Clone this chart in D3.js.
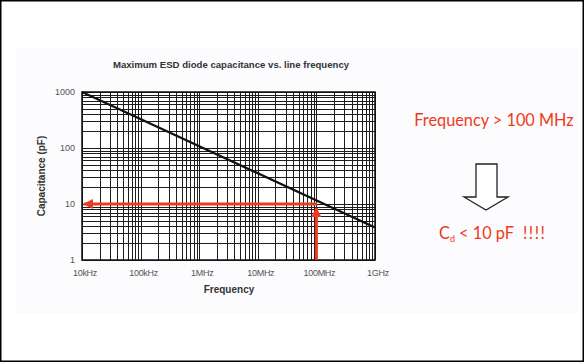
<!DOCTYPE html>
<html>
<head>
<meta charset="utf-8">
<script src="https://cdn.jsdelivr.net/npm/d3@7"></script>
<style>
  html, body { margin: 0; padding: 0; background: #fff; }
  svg { display: block; }
</style>
</head>
<body>
<div id="chart"></div>
<script>
// chart data
const freqTicks = [1e4, 1e5, 1e6, 1e7, 1e8, 1e9];
const freqLabels = ['10kHz', '100kHz', '1MHz', '10MHz', '100MHz', '1GHz'];
const capTicks = [1, 10, 100, 1000];
const capLabels = ['1', '10', '100', '1000'];
const curveFreq = [1e4, 1e9];
const curveCap = [1000, 3.8];
const markFreq = 1e8;
const markCap = 10;

const width = 584;
const height = 362;
const plot = { l: 82, r: 375, t: 92, b: 260 };

const svg = d3
  .select('#chart')
  .append('svg')
  .attr('width', width)
  .attr('height', height);

// page frame + slide panel
svg.append('rect').attr('x', 0.75).attr('y', 0.75)
  .attr('width', width - 1.5).attr('height', height - 1.5)
  .attr('fill', '#fff').attr('stroke', '#000').attr('stroke-width', 1.5);
svg.append('rect').attr('x', 16).attr('y', 47)
  .attr('width', 562).attr('height', 267)
  .attr('fill', '#fcfbfd');

const x = d3.scaleLog().domain([1e4, 1e9]).range([plot.l, plot.r]);
const y = d3.scaleLog().domain([1, 1000]).range([plot.b, plot.t]);

// plot background
svg.append('rect').attr('x', plot.l).attr('y', plot.t)
  .attr('width', plot.r - plot.l).attr('height', plot.b - plot.t)
  .attr('fill', '#fff');

// minor + major grid
const xGrid = [];
d3.range(4, 9).forEach((e) => {
  d3.range(1, 10).forEach((m) => xGrid.push(m * 10 ** e));
});
xGrid.push(1e9);
const yGrid = [];
d3.range(0, 3).forEach((e) => {
  d3.range(1, 10).forEach((m) => yGrid.push(m * 10 ** e));
});
yGrid.push(1000);

const grid = svg.append('g').attr('stroke', '#111').attr('stroke-width', 1).attr('opacity', 0.95);
grid.selectAll('.vx')
  .data(xGrid)
  .join('line')
  .attr('x1', (d) => Math.round(x(d)) + 0.5)
  .attr('x2', (d) => Math.round(x(d)) + 0.5)
  .attr('y1', plot.t)
  .attr('y2', plot.b);
grid.selectAll('.hy')
  .data(yGrid)
  .join('line')
  .attr('y1', (d) => Math.round(y(d)) + 0.5)
  .attr('y2', (d) => Math.round(y(d)) + 0.5)
  .attr('x1', plot.l)
  .attr('x2', plot.r);

// frame of the plot
svg.append('rect').attr('x', plot.l).attr('y', plot.t)
  .attr('width', plot.r - plot.l).attr('height', plot.b - plot.t)
  .attr('fill', 'none').attr('stroke', '#111').attr('stroke-width', 1.5);

// capacitance curve
const line = d3.line().x((d) => x(d[0])).y((d) => y(d[1]));
svg.append('path')
  .datum(d3.zip(curveFreq, curveCap))
  .attr('d', line)
  .attr('fill', 'none')
  .attr('stroke', '#111')
  .attr('stroke-width', 2.2);

// red marker arrows
const red = '#ee3a20';
const defs = svg.append('defs');
defs.append('marker')
  .attr('id', 'ah')
  .attr('viewBox', '0 0 10 10')
  .attr('refX', 9)
  .attr('refY', 5)
  .attr('markerWidth', 3.4)
  .attr('markerHeight', 3.4)
  .attr('orient', 'auto')
  .append('path')
  .attr('d', 'M0,0 L10,5 L0,10 Z')
  .attr('fill', red);

svg.append('line')
  .attr('x1', x(markFreq) + 1)
  .attr('y1', y(markCap))
  .attr('x2', plot.l + 2)
  .attr('y2', y(markCap))
  .attr('stroke', red)
  .attr('stroke-width', 3)
  .attr('marker-end', 'url(#ah)');
svg.append('line')
  .attr('x1', x(markFreq))
  .attr('y1', plot.b)
  .attr('x2', x(markFreq))
  .attr('y2', y(markCap) + 4)
  .attr('stroke', red)
  .attr('stroke-width', 3)
  .attr('marker-end', 'url(#ah)');

// tick labels
const tickFont = 'Liberation Sans, Arial, sans-serif';
svg.selectAll('.xl')
  .data(freqTicks)
  .join('text')
  .attr('x', (d) => x(d) + 3)
  .attr('y', 276)
  .attr('text-anchor', 'middle')
  .attr('font-family', tickFont)
  .attr('font-size', 9)
  .attr('letter-spacing', -0.3)
  .attr('fill', '#555')
  .text((d, i) => freqLabels[i]);
svg.selectAll('.yl')
  .data(capTicks)
  .join('text')
  .attr('x', 75)
  .attr('y', (d) => y(d) + 3)
  .attr('text-anchor', 'end')
  .attr('font-family', tickFont)
  .attr('font-size', 9)
  .attr('fill', '#555')
  .text((d, i) => capLabels[i]);

// titles
svg.append('text')
  .attr('x', 231)
  .attr('y', 68)
  .attr('text-anchor', 'middle')
  .attr('font-family', tickFont)
  .attr('font-weight', 'bold')
  .attr('font-size', 9.6)
  .attr('fill', '#333')
  .text('Maximum ESD diode capacitance vs. line frequency');
svg.append('text')
  .attr('x', 229)
  .attr('y', 293)
  .attr('text-anchor', 'middle')
  .attr('font-family', tickFont)
  .attr('font-weight', 'bold')
  .attr('font-size', 10)
  .attr('fill', '#333')
  .text('Frequency');
svg.append('text')
  .attr('transform', `translate(45, ${(plot.t + plot.b) / 2}) rotate(-90)`)
  .attr('text-anchor', 'middle')
  .attr('font-family', tickFont)
  .attr('font-weight', 'bold')
  .attr('font-size', 10)
  .attr('fill', '#333')
  .text('Capacitance (pF)');

// annotation on the right
const noteFont = 'Lato, "Open Sans", sans-serif';
svg.append('text')
  .attr('x', 494)
  .attr('y', 126)
  .attr('text-anchor', 'middle')
  .attr('font-family', noteFont)
  .attr('font-size', 16.3)
  .attr('fill', red)
  .text('Frequency > 100 MHz');

svg.append('path')
  .attr('d', 'M476,164 L497,164 L497,197 L508,197 L486,210 L464,197 L476,197 Z')
  .attr('fill', '#fff')
  .attr('stroke', '#222')
  .attr('stroke-width', 1.3);

const cd = svg.append('text')
  .attr('x', 439)
  .attr('y', 239)
  .attr('font-family', noteFont)
  .attr('font-size', 16.3)
  .attr('fill', red);
cd.append('tspan').text('C');
cd.append('tspan').attr('font-size', 9).attr('dy', 3).text('d');
cd.append('tspan').attr('dy', -3).text(' < 10 pF');
cd.append('tspan').attr('dx', 9).attr('letter-spacing', 1.5).text('!!!!');
</script>
</body>
</html>
